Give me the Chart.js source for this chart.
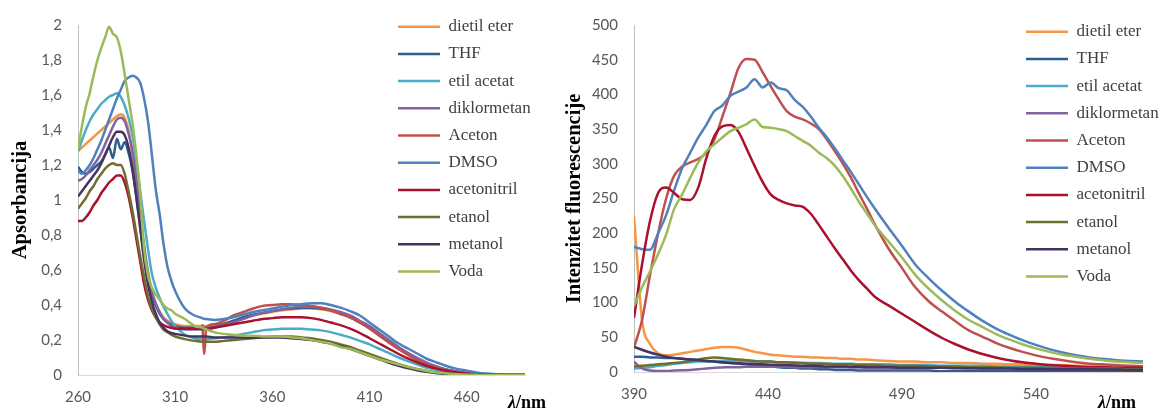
<!DOCTYPE html>
<html><head><meta charset="utf-8">
<script src="https://cdn.jsdelivr.net/npm/chart.js@4.4.1/dist/chart.umd.min.js"></script>
<style>
html,body{margin:0;padding:0;background:#fff;}
#wrap{position:relative;width:1162px;height:412px;overflow:hidden;background:#fff;}
#c1{position:absolute;left:0;top:0;}
#c2{position:absolute;left:560px;top:0;}
</style></head><body>
<div id="wrap"><canvas id="c1" width="560" height="412"></canvas><canvas id="c2" width="602" height="412"></canvas></div>
<script>
// ---------- DATA ----------
const solventNames = ['dietil eter','THF','etil acetat','diklormetan','Aceton','DMSO','acetonitril','etanol','metanol','Voda'];

// Absorption (left panel)
const absWl = [260,262,264,266,268,270,272,274,276,278,280,282,284,286,288,290,292,294,296,298,300,302,304,306,308,310,
  315,320,324,325,326,330,
  335,340,345,350,355,360,365,370,375,380,385,390,395,400,405,410,415,420,425,430,435,440,445,450,455,460,465,470,475,480,485,490];
const absXTicks = [260,310,360,410,460];
const absYTicks = [0,0.2,0.4,0.6,0.8,1,1.2,1.4,1.6,1.8,2];
const absYTickLabels = ['0','0,2','0,4','0,6','0,8','1','1,2','1,4','1,6','1,8','2'];

const absDietilEter = [1.28,1.30,1.32,1.34,1.36,1.38,1.40,1.42,1.44,1.46,1.48,1.49,1.47,1.40,1.26,1.08,0.88,0.70,0.56,0.46,0.40,0.36,0.33,0.31,0.30,0.29,
  0.28,0.28,0.28,0.28,0.28,0.285,
  0.295,0.31,0.325,0.34,0.35,0.36,0.37,0.375,0.38,0.38,0.375,0.365,0.35,0.33,0.30,0.27,0.23,0.19,0.15,0.115,0.085,0.06,0.04,0.025,0.015,0.008,0.004,0.002,0.001,0,0,0];
const absTHF = [1.19,1.16,1.15,1.16,1.18,1.20,1.22,1.26,1.30,1.24,1.35,1.29,1.33,1.27,1.17,1.02,0.85,0.68,0.55,0.46,0.40,0.35,0.32,0.30,0.29,0.28,
  0.27,0.27,0.27,0.27,0.27,0.275,
  0.29,0.31,0.33,0.345,0.355,0.365,0.375,0.38,0.385,0.385,0.38,0.37,0.35,0.33,0.30,0.27,0.23,0.19,0.155,0.12,0.09,0.065,0.045,0.03,0.02,0.012,0.006,0.003,0.001,0,0,0];
const absEtilAcetat = [1.28,1.34,1.40,1.45,1.49,1.52,1.55,1.57,1.59,1.60,1.61,1.59,1.54,1.47,1.37,1.22,1.05,0.88,0.72,0.58,0.50,0.44,0.39,0.35,0.31,0.28,
  0.23,0.21,0.205,0.205,0.205,0.21,
  0.215,0.225,0.235,0.245,0.255,0.26,0.265,0.265,0.265,0.26,0.255,0.245,0.23,0.215,0.195,0.175,0.15,0.125,0.10,0.078,0.058,0.04,0.027,0.017,0.01,0.005,0.003,0.001,0,0,0,0];
const absDiklormetan = [1.11,1.12,1.14,1.17,1.20,1.23,1.27,1.32,1.37,1.42,1.46,1.47,1.45,1.38,1.28,1.12,0.92,0.74,0.59,0.48,0.41,0.36,0.32,0.30,0.28,0.27,
  0.26,0.26,0.26,0.26,0.26,0.27,
  0.285,0.30,0.32,0.34,0.355,0.365,0.375,0.385,0.39,0.39,0.385,0.375,0.36,0.34,0.31,0.28,0.24,0.20,0.16,0.125,0.095,0.068,0.047,0.03,0.019,0.011,0.006,0.003,0.001,0,0,0];
const absAceton = [null,null,null,null,null,null,null,null,null,null,null,null,null,null,null,null,null,null,null,null,null,null,null,null,null,null,
  null,null,0.29,0.12,0.27,0.29,
  0.31,0.34,0.36,0.38,0.395,0.40,0.405,0.405,0.40,0.395,0.385,0.37,0.35,0.33,0.30,0.265,0.225,0.185,0.148,0.113,0.083,0.058,0.04,0.026,0.016,0.009,0.005,0.002,0.001,0,0,0];
const absDMSO = [1.17,1.15,1.17,1.20,1.24,1.29,1.34,1.40,1.46,1.52,1.58,1.63,1.68,1.70,1.71,1.70,1.67,1.58,1.45,1.26,1.06,0.92,0.75,0.62,0.54,0.48,
  0.38,0.34,0.325,0.32,0.32,0.315,
  0.32,0.33,0.345,0.36,0.37,0.38,0.39,0.40,0.405,0.41,0.41,0.40,0.385,0.365,0.34,0.30,0.26,0.22,0.18,0.15,0.12,0.09,0.07,0.05,0.035,0.025,0.015,0.008,0.004,0.002,0.001,0];
const absAcetonitril = [0.88,0.88,0.90,0.93,0.97,1.00,1.04,1.07,1.10,1.12,1.14,1.14,1.10,1.02,0.91,0.78,0.65,0.52,0.43,0.37,0.33,0.30,0.285,0.275,0.27,0.265,
  0.265,0.265,0.265,0.265,0.265,0.27,
  0.28,0.29,0.30,0.31,0.32,0.325,0.33,0.33,0.33,0.325,0.315,0.30,0.285,0.265,0.24,0.21,0.18,0.15,0.12,0.093,0.07,0.05,0.035,0.023,0.014,0.008,0.004,0.002,0.001,0,0,0];
const absEtanol = [0.95,0.98,1.01,1.05,1.08,1.12,1.15,1.18,1.20,1.21,1.20,1.20,1.15,1.05,0.94,0.81,0.68,0.56,0.45,0.38,0.33,0.29,0.26,0.245,0.23,0.22,
  0.205,0.195,0.19,0.19,0.19,0.19,
  0.195,0.20,0.205,0.21,0.215,0.22,0.22,0.22,0.215,0.21,0.20,0.19,0.175,0.16,0.14,0.12,0.10,0.08,0.062,0.046,0.033,0.022,0.014,0.008,0.004,0.002,0.001,0,0,0,0,0];
const absMetanol = [1.02,1.05,1.08,1.11,1.14,1.17,1.21,1.26,1.31,1.36,1.39,1.39,1.37,1.30,1.18,1.02,0.84,0.66,0.52,0.42,0.35,0.30,0.27,0.25,0.24,0.235,
  0.225,0.22,0.22,0.22,0.22,0.215,
  0.215,0.215,0.215,0.215,0.215,0.215,0.215,0.21,0.205,0.20,0.19,0.18,0.165,0.15,0.13,0.11,0.09,0.07,0.053,0.038,0.026,0.017,0.01,0.006,0.003,0.001,0,0,0,0,0,0];
const absVoda = [1.29,1.42,1.53,1.61,1.71,1.80,1.87,1.93,1.99,1.95,1.93,1.85,1.72,1.58,1.44,1.26,1.04,0.72,0.57,0.50,0.46,0.43,0.40,0.38,0.37,0.35,
  0.32,0.28,0.27,0.265,0.26,0.245,
  0.235,0.23,0.225,0.225,0.22,0.22,0.22,0.215,0.21,0.20,0.19,0.18,0.16,0.15,0.13,0.11,0.09,0.075,0.06,0.045,0.033,0.022,0.014,0.008,0.004,0.002,0.001,0,0,0,0,0];

// Fluorescence (right panel)
const flWl = [390,393,396,399,402,405,408,411,414,417,420,423,426,429,432,435,438,441,444,447,450,453,456,459,462,465,468,471,474,477,480,
  485,490,495,500,505,510,515,520,525,530,535,540,545,550,555,560,565,570,575,580];
const flXTicks = [390,440,490,540];
const flYTicks = [0,50,100,150,200,250,300,350,400,450,500];

const flDietilEter = [225,75,40,27,24,25,27,29,31,33,35,36,36,35,32,29,27,25,24,23,22,22,21,21,20,20,19,19,18,18,17,
  16,15,15,14,14,13,13,12,12,11,11,10,10,10,9,9,9,8,8,8];
const flTHF = [22,22,21,21,20,20,19,18,17,16,15,14,13,12,11,10,9,8,7,6,6,5,5,4,4,3,3,3,2,2,2,
  2,2,2,2,1,1,1,1,1,1,1,1,1,1,1,1,1,1,1,1];
const flEtilAcetat = [5,6,7,9,10,12,13,14,15,15,16,16,16,16,16,15,15,15,14,14,14,13,13,13,12,12,12,12,11,11,11,
  11,10,10,10,9,9,9,9,8,8,8,8,7,7,7,7,7,6,6,6];
const flDiklormetan = [15,5,2,1.5,1.5,2,2.5,3,4,5,6,6.5,7,7,7.5,7.5,7.5,7.5,7.5,7.5,7,7,7,7,7,7,7,6.5,6.5,6.5,6.5,
  6.5,6,6,6,6,6,5.5,5.5,5.5,5.5,5,5,5,5,5,4.5,4.5,4.5,4.5,4];
const flAceton = [35,75,140,200,250,283,296,302,307,316,335,368,402,438,451,450,432,412,393,376,368,364,358,350,335,318,300,280,257,235,212,
  178,150,122,102,87,73,60,51,42,35,29,24,20,17,14,12,11,10,9,8];
const flDMSO = [180,177,176,200,226,262,294,316,338,356,376,384,398,404,410,422,410,417,409,406,392,382,368,352,338,322,305,288,270,252,235,
  208,182,155,135,117,101,87,74,63,54,46,39,33,28,24,21,19,17,16,15];
const flAcetonitril = [78,155,218,258,266,258,249,248,266,308,340,354,356,346,322,297,274,256,248,243,240,238,228,212,195,178,162,146,132,120,108,
  96,84,72,60,49,40,32,26,21,17,14,12,10,9,8,7,7,6,6,6];
const flEtanol = [8,9,10,11,12,13,14,16,18,20,21,20,19,18,17,16,15,15,14,14,13,13,12,12,12,11,11,11,10,10,10,
  9,9,9,8,8,8,7,7,7,6,6,6,6,5,5,5,5,5,4,4];
const flMetanol = [36,32,28,25,22,20,19,18,17,16,15,14,13,12.5,12,11.5,11,10.5,10,10,9.5,9,9,8.5,8,8,8,7.5,7.5,7,7,
  7,6,6,6,6,5.5,5.5,5,5,5,4.5,4.5,4,4,4,4,3.5,3.5,3,3];
const flVoda = [95,122,145,170,198,235,256,280,302,318,328,338,347,352,357,364,353,352,350,347,340,333,326,316,308,297,282,264,245,228,211,
  188,165,140,120,103,88,75,65,55,47,40,34,29,25,22,19,17,15,14,13];

// ---------- STYLE ----------
const seriesColors = ['#F79646','#2B5E91','#4BACC6','#8064A2','#C0504D','#4F81BD','#A9112E','#6E6E30','#46335E','#9BBB59'];
const tickFont = {family: 'Lato', size: 15};
const tickColor = '#595959';
const serif = '"Liberation Serif", "Times New Roman", serif';

function makeDatasets(wl, series) {
  return series.map((vals, i) => ({
    label: solventNames[i],
    data: vals.map((v, j) => ({x: wl[j], y: v})),
    borderColor: seriesColors[i],
    backgroundColor: seriesColors[i],
    borderWidth: 2.5,
    pointRadius: 0,
    pointHoverRadius: 0,
    fill: false,
    cubicInterpolationMode: 'monotone',
    order: -i
  }));
}

function legendShift(x, y) {
  return {
    id: 'legendShift',
    afterLayout(chart) {
      const lg = chart.legend;
      if (!lg) return;
      const w = lg.width, h = lg.height;
      lg.left = x; lg.right = x + w;
      lg.top = y; lg.bottom = y + h;
    }
  };
}
function lambdaLabel(x, y) {
  return {
    id: 'lambdaLabel',
    afterDraw(chart) {
      const ctx = chart.ctx;
      ctx.save();
      ctx.fillStyle = '#000';
      ctx.textBaseline = 'middle';
      ctx.textAlign = 'left';
      ctx.font = 'italic bold 18px ' + serif;
      ctx.fillText('λ', x, y);
      const w = ctx.measureText('λ').width;
      ctx.font = 'bold 18px ' + serif;
      ctx.fillText('/nm', x + w, y);
      ctx.restore();
    }
  };
}

function makeChart(canvas, cfg) {
  return new Chart(canvas, {
    type: 'line',
    data: {datasets: makeDatasets(cfg.wl, cfg.series)},
    options: {
      responsive: false,
      animation: false,
      devicePixelRatio: 1,
      events: [],
      layout: {padding: cfg.padding},
      plugins: {
        tooltip: {enabled: false},
        legend: {
          display: true,
          position: 'chartArea',
          align: 'start',
          labels: {
            usePointStyle: true,
            pointStyle: 'line',
            pointStyleWidth: 42,
            padding: 10.2,
            color: '#404040',
            font: {family: serif, size: 17},
            sort: (a, b) => a.datasetIndex - b.datasetIndex
          }
        }
      },
      scales: {
        x: {
          type: 'linear',
          min: cfg.xMin, max: cfg.xMax,
          grid: {display: false, drawTicks: false},
          border: {display: true, color: '#D9D9D9', width: 1},
          afterBuildTicks: (s) => { s.ticks = cfg.xTicks.map(v => ({value: v})); },
          afterFit: (s) => { s.height = cfg.xHeight; },
          ticks: {autoSkip: false, maxRotation: 0, padding: 13, font: tickFont, color: tickColor,
                  callback: (v, i) => String(cfg.xTicks[i])}
        },
        y: {
          type: 'linear',
          min: cfg.yMin, max: cfg.yMax,
          grid: {display: false, drawTicks: false},
          border: {display: true, color: '#BFBFBF', width: 1},
          afterBuildTicks: (s) => { s.ticks = cfg.yTicks.map(v => ({value: v})); },
          afterFit: (s) => { s.width = cfg.yWidth; },
          ticks: {padding: 16, font: tickFont, color: tickColor,
                  callback: (v, i) => cfg.yLabels[i]},
          title: {display: true, text: cfg.yTitle, color: '#000',
                  font: {family: serif, size: 20.5, weight: 'bold'},
                  padding: {top: cfg.titlePad, bottom: 0}}
        }
      }
    },
    plugins: [legendShift(cfg.legendX, cfg.legendY), lambdaLabel(cfg.lambdaX, 403)]
  });
}

makeChart(document.getElementById('c1'), {
  wl: absWl,
  series: [absDietilEter, absTHF, absEtilAcetat, absDiklormetan, absAceton, absDMSO, absAcetonitril, absEtanol, absMetanol, absVoda],
  padding: {top: 21, right: 35, bottom: 0, left: 0},
  xMin: 260, xMax: 490, xTicks: absXTicks, xHeight: 37,
  yMin: 0, yMax: 2, yTicks: absYTicks, yLabels: absYTickLabels, yWidth: 78,
  yTitle: 'Apsorbancija', titlePad: 8.5,
  legendX: 387.8, legendY: 8,
  lambdaX: 508
});

makeChart(document.getElementById('c2'), {
  wl: flWl,
  series: [flDietilEter, flTHF, flEtilAcetat, flDiklormetan, flAceton, flDMSO, flAcetonitril, flEtanol, flMetanol, flVoda],
  padding: {top: 21.5, right: 19, bottom: 0, left: 0},
  xMin: 390, xMax: 580, xTicks: flXTicks, xHeight: 40,
  yMin: 0, yMax: 500, yTicks: flYTicks, yLabels: flYTicks.map(String), yWidth: 74,
  yTitle: 'Intenzitet fluorescencije', titlePad: 2,
  legendX: 455.8, legendY: 13,
  lambdaX: 538
});
</script>
</body></html>
